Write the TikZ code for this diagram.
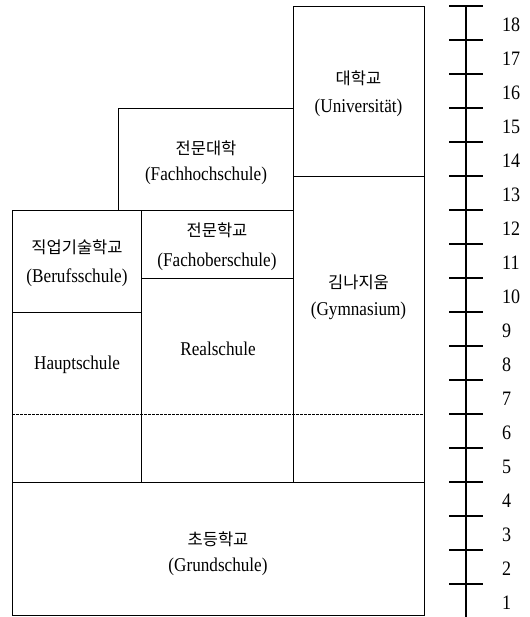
\documentclass[tikz,border=0pt]{standalone}
\usepackage{fontspec}
\setmainfont{Liberation Serif}[FakeStretch=0.88]
\newfontfamily\kr{Noto Sans CJK KR}
\begin{document}
\begin{tikzpicture}[x=1pt,y=1pt,
  box/.style={draw=black,line width=0.9pt},
  lat/.style={inner sep=0pt,font=\fontsize{19.5}{22}\selectfont},
  kor/.style={inner sep=0pt,font=\kr\fontsize{16.5}{19}\selectfont},
  num/.style={inner sep=0pt,anchor=west,font=\fontsize{20.5}{23}\selectfont},
  scaleline/.style={line width=1.4pt},
  sep/.style={dashed,dash pattern=on 2.5pt off 1.5pt,line width=0.8pt}]
\useasboundingbox (0,0) rectangle (529,617);
% dashed line at year 6
\coordinate (dL) at (12,203);
\coordinate (dR) at (424,203);
\draw[sep] (dL) -- (dR);
% boxes
\draw[box] (12,2) rectangle (424,135);
\draw[box] (12,135) rectangle (141,305);
\draw[box] (12,305) rectangle (141,407);
\draw[box] (141,135) rectangle (293,339);
\draw[box] (141,339) rectangle (293,407);
\draw[box] (118,407) rectangle (293,509);
\draw[box] (293,135) rectangle (424,441);
\draw[box] (293,441) rectangle (424,611);
% texts
\node[kor] (uniK) at (358.5,539) {대학교};
\node[lat] (uniL) at (358.5,509) {(Universität)};
\node[kor] (fhK) at (206,469) {전문대학};
\node[lat] (fhL) at (206,441) {(Fachhochschule)};
\node[kor] (bsK) at (77,370) {직업기술학교};
\node[lat] (bsL) at (77,339) {(Berufsschule)};
\node[kor] (fosK) at (217,387) {전문학교};
\node[lat] (fosL) at (217,355) {(Fachoberschule)};
\node[lat] (hs) at (77,252) {Hauptschule};
\node[lat] (rs) at (218,268) {Realschule};
\node[kor] (gyK) at (358.5,335) {김나지움};
\node[lat] (gyL) at (358.5,306) {(Gymnasium)};
\node[kor] (gsK) at (218,78) {초등학교};
\node[lat] (gsL) at (218,50) {(Grundschule)};
% age scale
\coordinate (sTop) at (466,611);
\coordinate (sBot) at (466,0);
\draw[scaleline] (sTop) -- (sBot);
\foreach \k in {1,...,18} {
  \coordinate (tl\k) at (449,34*\k-1);
  \coordinate (tr\k) at (483,34*\k-1);
  \draw[scaleline] (tl\k) -- (tr\k);
  \node[num] (n\k) at (502,34*\k-20) {\k};
}
\end{tikzpicture}
\end{document}
